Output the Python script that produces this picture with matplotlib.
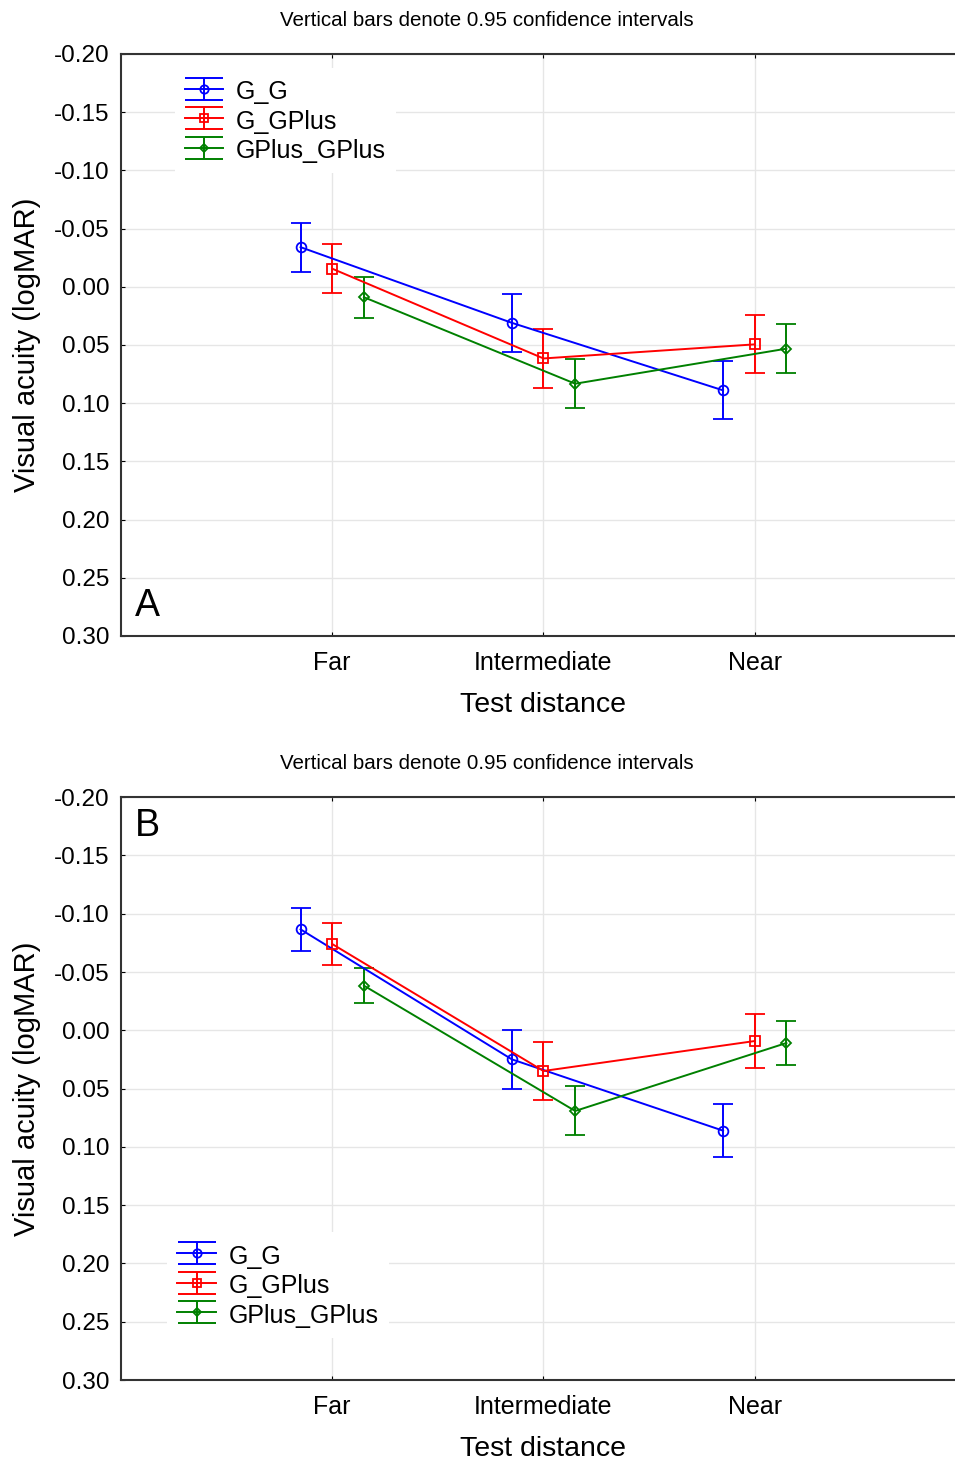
import numpy as np
import matplotlib.pyplot as plt
from matplotlib.lines import Line2D
from matplotlib.path import Path
from matplotlib.legend_handler import HandlerTuple

plt.rcParams['font.family'] = ['Liberation Sans', 'DejaVu Sans']

distances = ['Far', 'Intermediate', 'Near']
groups = ['G_G', 'G_GPlus', 'GPlus_GPlus']

# panel A: mean logMAR and 95% CI half-width
gg_a = [-0.034, 0.031, 0.089]
gg_a_ci = [0.021, 0.025, 0.025]
ggp_a = [-0.0155, 0.0616, 0.0495]
ggp_a_ci = [0.021, 0.025, 0.025]
gpgp_a = [0.009, 0.0833, 0.0532]
gpgp_a_ci = [0.0177, 0.021, 0.021]

# panel B
gg_b = [-0.0866, 0.0249, 0.0861]
gg_b_ci = [0.0183, 0.0253, 0.0228]
ggp_b = [-0.074, 0.0349, 0.0092]
ggp_b_ci = [0.018, 0.025, 0.023]
gpgp_b = [-0.0383, 0.0692, 0.0109]
gpgp_b_ci = [0.0153, 0.021, 0.019]

yticks = [-0.20, -0.15, -0.10, -0.05, 0.00, 0.05, 0.10, 0.15, 0.20, 0.25, 0.30]

colors = ['#0000ff', '#ff0000', '#008000']
markers = ['o', 's', 'D']
msizes = [7, 6.5, 5.5]
offsets = [-0.15, 0.0, 0.15]

# "I" shaped marker for the legend (error bar with caps)
ibar = Path([(-1, 0.58), (1, 0.58), (0, 0.58), (0, -0.58), (-1, -0.58), (1, -0.58)],
            [Path.MOVETO, Path.LINETO, Path.MOVETO, Path.LINETO, Path.MOVETO, Path.LINETO])


def draw_panel(ax, means, cis, letter, letter_y, leg_xy):
    x = np.arange(1, len(distances) + 1)
    handles = []
    for m, ci, c, mk, ms, off in zip(means, cis, colors, markers, msizes, offsets):
        ax.errorbar(x + off, m, yerr=ci, color=c, lw=1.4, capsize=7.5, capthick=1.4,
                    elinewidth=1.4, marker=mk, ms=ms, mfc='none', mec=c, mew=1.3, zorder=3)
        bar = Line2D([], [], ls='none', marker=ibar, ms=27, mec=c, mew=1.4)
        line = Line2D([], [], color=c, lw=1.4, marker=mk, ms=ms - 1, mfc='none', mec=c, mew=1.3)
        handles.append((bar, line))

    ax.set_xlim(0, 4)
    ax.set_ylim(0.30, -0.20)
    ax.set_yticks(yticks)
    ax.set_yticklabels([f'{v:.2f}' if v != 0 else '0.00' for v in yticks])
    ax.set_xticks(x)
    ax.set_xticklabels(distances, fontsize=18)
    ax.tick_params(axis='y', labelsize=17.5, direction='in', length=3, pad=8.5)
    ax.tick_params(axis='x', direction='in', length=3, pad=10.5, top=True)
    ax.grid(True, color='#e6e6e6', lw=1)
    ax.set_axisbelow(True)
    for s in ax.spines.values():
        s.set_linewidth(1.5)
        s.set_color('#333333')
    ax.spines['right'].set_visible(False)

    ax.set_xlabel('Test distance', fontsize=20.5, labelpad=12.5)
    ax.set_ylabel('Visual acuity (logMAR)', fontsize=21, labelpad=9)
    ax.text(0.031, letter_y, letter, transform=ax.transAxes, fontsize=27,
            ha='center', va='center')

    leg = ax.legend(handles, groups, handler_map={tuple: HandlerTuple(ndivide=1)},
                    loc='center left', bbox_to_anchor=leg_xy, borderaxespad=0, fontsize=18,
                    handlelength=1.55, handleheight=1.2, handletextpad=0.5,
                    labelspacing=0.13, borderpad=0.4, frameon=True, fancybox=False)
    leg.get_frame().set_facecolor('white')
    leg.get_frame().set_edgecolor('none')
    leg.get_frame().set_alpha(1)


fig = plt.figure(figsize=(9.55, 14.61), dpi=100)
ax_a = fig.add_axes([0.1267, 0.5647, 0.8848, 0.3984])
ax_b = fig.add_axes([0.1267, 0.0554, 0.8848, 0.3990])

draw_panel(ax_a, [gg_a, ggp_a, gpgp_a], [gg_a_ci, ggp_a_ci, gpgp_a_ci],
           'A', 0.052, (0.0636, 0.885))
draw_panel(ax_b, [gg_b, ggp_b, gpgp_b], [gg_b_ci, ggp_b_ci, gpgp_b_ci],
           'B', 0.950, (0.055, 0.163))

fig.text(0.51, 0.9863, 'Vertical bars denote 0.95 confidence intervals',
         fontsize=14.8, ha='center', va='center')
fig.text(0.51, 0.4777, 'Vertical bars denote 0.95 confidence intervals',
         fontsize=14.8, ha='center', va='center')

fig.savefig('out.png', dpi=100)
